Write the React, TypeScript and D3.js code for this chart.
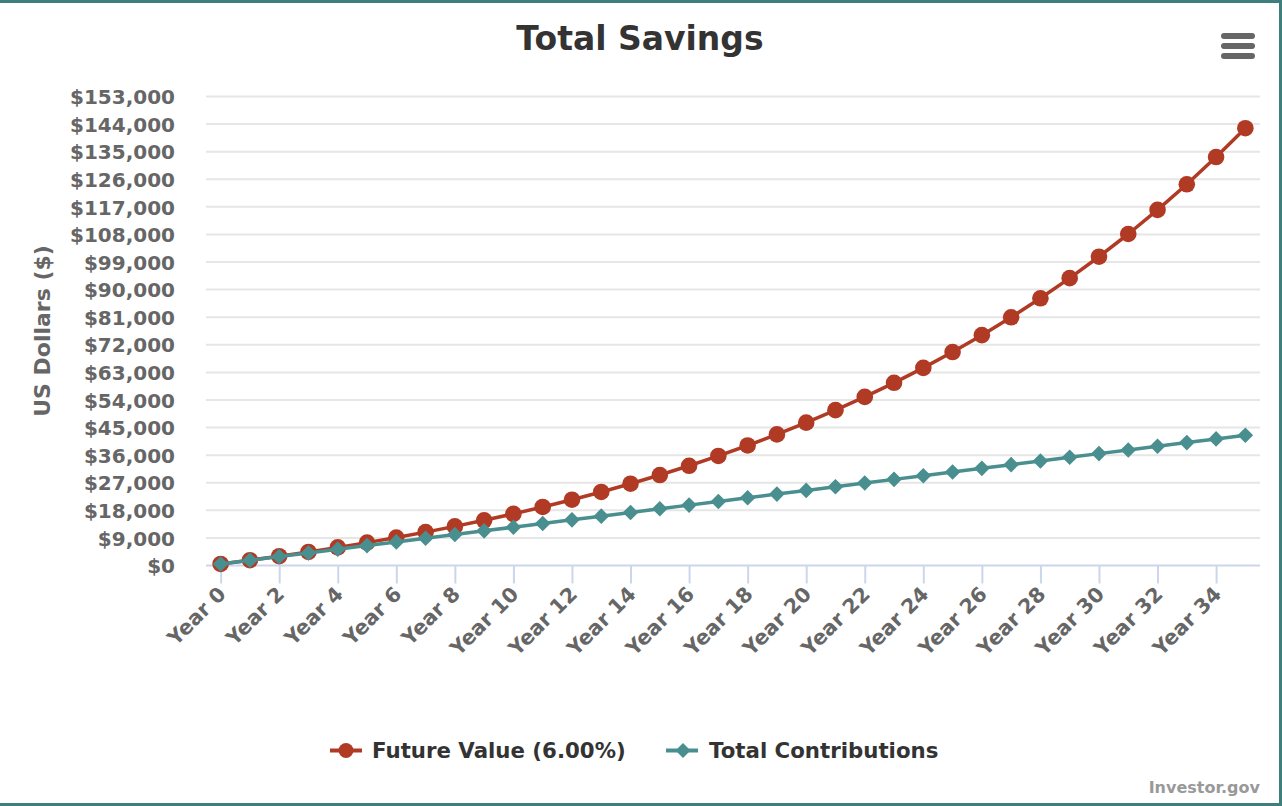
import { useCallback, useEffect, useRef } from 'react';

import { axisBottom, axisLeft, line, scaleLinear, scalePoint, select } from 'd3';

// year index of every point
const years = [
  0, 1, 2, 3, 4, 5, 6, 7, 8, 9, 10, 11, 12, 13, 14, 15, 16, 17, 18, 19, 20, 21,
  22, 23, 24, 25, 26, 27, 28, 29, 30, 31, 32, 33, 34, 35,
];

// only every second year gets a label / tick
const labeledYears = [
  0, 2, 4, 6, 8, 10, 12, 14, 16, 18, 20, 22, 24, 26, 28, 30, 32, 34,
];

const futureValue = [
  500, 1731, 3038, 4425, 5898, 7462, 9122, 10884, 12756, 14743, 16852, 19091,
  21469, 23993, 26673, 29518, 32538, 35745, 39150, 42765, 46602, 50677, 55002,
  59595, 64471, 69647, 75143, 80977, 87172, 93749, 100731, 108144, 116014,
  124369, 133240, 142658,
];

const totalContributions = [
  500, 1700, 2900, 4100, 5300, 6500, 7700, 8900, 10100, 11300, 12500, 13700,
  14900, 16100, 17300, 18500, 19700, 20900, 22100, 23300, 24500, 25700, 26900,
  28100, 29300, 30500, 31700, 32900, 34100, 35300, 36500, 37700, 38900, 40100,
  41300, 42500,
];

const yTicks = [
  0, 9000, 18000, 27000, 36000, 45000, 54000, 63000, 72000, 81000, 90000,
  99000, 108000, 117000, 126000, 135000, 144000, 153000,
];

const seriesNames = ['Future Value (6.00%)', 'Total Contributions'];

export default function App() {
  const containerRef = useRef<HTMLDivElement>(null);

  const initChart = useCallback(() => {
    const container = containerRef.current;
    if (!container) return;

    const width = 1282,
      height = 806,
      left = 206,
      right = 1260,
      top = 96.5,
      bottom = 565.5;

    const red = '#b13a24',
      teal = '#4a8f8f',
      border = '#3e7f7c',
      font = '"DejaVu Sans", Verdana, sans-serif';

    const div = select(container);
    div.select('svg').remove();

    const svg = div
      .append('svg')
      .attr('width', width)
      .attr('height', height)
      .style('display', 'block')
      .attr('font-family', font);

    svg.append('rect').attr('width', width).attr('height', height).attr('fill', 'white');

    // frame (top, right, bottom edges only are visible)
    svg.append('rect').attr('x', 0).attr('y', 0).attr('width', width).attr('height', 3).attr('fill', border);
    svg.append('rect').attr('x', 1279).attr('y', 0).attr('width', 3).attr('height', height).attr('fill', border);
    svg.append('rect').attr('x', 0).attr('y', 803).attr('width', width).attr('height', 3).attr('fill', border);

    const x = scalePoint<number>().domain(years).range([left, right]).padding(0.5);
    const y = scaleLinear().domain([0, 153000]).range([bottom, top]);

    // grid lines
    svg
      .append('g')
      .selectAll('line')
      .data(yTicks.slice(1))
      .join('line')
      .attr('x1', left)
      .attr('x2', right)
      .attr('y1', (d) => y(d))
      .attr('y2', (d) => y(d))
      .attr('stroke', '#e6e6e6')
      .attr('stroke-width', 2);

    // y axis labels
    const yAxis = svg
      .append('g')
      .attr('transform', `translate(${left},0)`)
      .call(
        axisLeft(y)
          .tickValues(yTicks)
          .tickSize(0)
          .tickPadding(31)
          .tickFormat((d) => '$' + Number(d).toLocaleString('en-US')),
      );
    yAxis.select('.domain').remove();
    yAxis
      .selectAll('text')
      .attr('font-family', font)
      .attr('font-size', 20)
      .attr('font-weight', 'bold')
      .attr('fill', '#666')
      .attr('dy', '0.36em');

    // y axis title
    svg
      .append('text')
      .attr('transform', 'translate(50,331) rotate(-90)')
      .attr('text-anchor', 'middle')
      .attr('font-size', 22)
      .attr('font-weight', 'bold')
      .attr('fill', '#666')
      .text('US Dollars ($)');

    // x axis
    const xAxis = svg
      .append('g')
      .attr('transform', `translate(0,${bottom})`)
      .call(
        axisBottom(x)
          .tickValues(labeledYears)
          .tickSize(18)
          .tickSizeOuter(0)
          .tickFormat((d) => `Year ${d}`),
      );
    xAxis.select('.domain').attr('stroke', '#ccd6eb').attr('stroke-width', 2).attr('d', `M${left},0H${right}`);
    xAxis.selectAll('.tick line').attr('stroke', '#ccd6eb').attr('stroke-width', 2);
    xAxis
      .selectAll('.tick text')
      .attr('font-family', font)
      .attr('font-size', 20.5)
      .attr('font-weight', 'bold')
      .attr('fill', '#666')
      .attr('text-anchor', 'end')
      .attr('x', 0)
      .attr('y', 0)
      .attr('dy', 0)
      .attr('transform', 'translate(6,30) rotate(-45)');

    // series
    const lineGen = line<number>()
      .x((_, i) => x(years[i]) as number)
      .y((d) => y(d));

    const diamond = (cx: number, cy: number, r: number) =>
      `M${cx},${cy - r}L${cx + r},${cy}L${cx},${cy + r}L${cx - r},${cy}Z`;

    const fvGroup = svg.append('g');
    fvGroup
      .append('path')
      .attr('d', lineGen(futureValue))
      .attr('fill', 'none')
      .attr('stroke', red)
      .attr('stroke-width', 3.5)
      .attr('stroke-linejoin', 'round');
    fvGroup
      .selectAll('circle')
      .data(futureValue)
      .join('circle')
      .attr('cx', (_, i) => x(years[i]) as number)
      .attr('cy', (d) => y(d))
      .attr('r', 8.3)
      .attr('fill', red);

    const tcGroup = svg.append('g');
    tcGroup
      .append('path')
      .attr('d', lineGen(totalContributions))
      .attr('fill', 'none')
      .attr('stroke', teal)
      .attr('stroke-width', 3.5)
      .attr('stroke-linejoin', 'round');
    tcGroup
      .selectAll('path.marker')
      .data(totalContributions)
      .join('path')
      .attr('class', 'marker')
      .attr('d', (d, i) => diamond(x(years[i]) as number, y(d), 7.8))
      .attr('fill', teal);

    // title
    svg
      .append('text')
      .attr('x', 640)
      .attr('y', 50)
      .attr('text-anchor', 'middle')
      .attr('font-size', 33)
      .attr('font-weight', 'bold')
      .attr('fill', '#333')
      .text('Total Savings');

    // context menu icon
    svg
      .append('g')
      .selectAll('line')
      .data([36, 46, 56])
      .join('line')
      .attr('x1', 1224)
      .attr('x2', 1252)
      .attr('y1', (d) => d)
      .attr('y2', (d) => d)
      .attr('stroke', '#666')
      .attr('stroke-width', 6)
      .attr('stroke-linecap', 'round');

    // legend
    const legend = svg.append('g').attr('font-size', 21.3).attr('font-weight', 'bold').attr('fill', '#333');
    const items = [
      { name: seriesNames[0], color: red, sx: 330, tx: 372, shape: 'circle' },
      { name: seriesNames[1], color: teal, sx: 666, tx: 709, shape: 'diamond' },
    ];
    items.forEach((it) => {
      const g = legend.append('g');
      g.append('line')
        .attr('x1', it.sx)
        .attr('x2', it.sx + 32)
        .attr('y1', 750.5)
        .attr('y2', 750.5)
        .attr('stroke', it.color)
        .attr('stroke-width', 4);
      if (it.shape === 'circle') {
        g.append('circle').attr('cx', it.sx + 16).attr('cy', 750.5).attr('r', 7.5).attr('fill', it.color);
      } else {
        g.append('path').attr('d', diamond(it.sx + 17, 750.5, 7.5)).attr('fill', it.color);
      }
      g.append('text').attr('x', it.tx).attr('y', 758).attr('fill', '#333').text(it.name);
    });

    // credits
    svg
      .append('text')
      .attr('x', 1260)
      .attr('y', 793)
      .attr('text-anchor', 'end')
      .attr('font-size', 16)
      .attr('font-weight', 'bold')
      .attr('fill', '#999')
      .text('Investor.gov');
  }, []);

  const destroyChart = useCallback(() => {
    const container = containerRef.current;
    if (!container) return;
    select(container).select('svg').remove();
  }, []);

  useEffect(() => {
    initChart();
    return destroyChart;
  }, [destroyChart, initChart]);

  return (
    <div
      ref={containerRef}
      style={{ position: 'absolute', left: 0, top: 0, background: 'white' }}
    />
  );
}
